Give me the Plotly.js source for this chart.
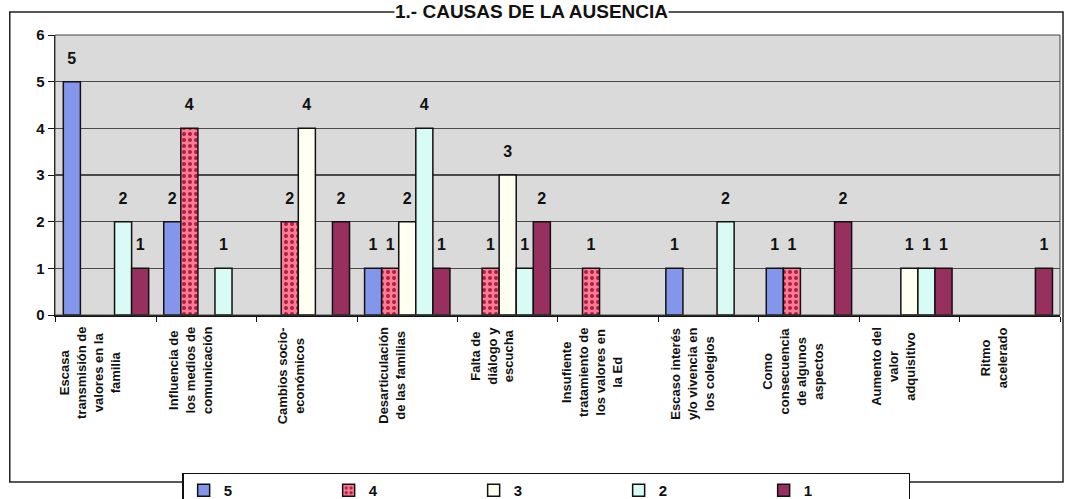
<!DOCTYPE html>
<html>
<head>
<meta charset="utf-8">
<script src="https://cdn.plot.ly/plotly-3.0.1.min.js"></script>
<style>html,body{margin:0;padding:0;background:#fff;}#chart{width:1068px;height:499px;}</style>
</head>
<body>
<div id="chart"></div>
<script>
const categories = [
  "Escasa<br>transmisión de<br>valores en la<br>familia",
  "Influencia de<br>los medios de<br>comunicación",
  "Cambios socio-<br>económicos",
  "Desarticulación<br>de las familias",
  "Falta de<br>diálogo y<br>escucha",
  "Insufiente<br>tratamiento de<br>los valores en<br>la Ed",
  "Escaso interés<br>y/o vivencia en<br>los colegios",
  "Como<br>consecuencia<br>de algunos<br>aspectos",
  "Aumento del<br>valor<br>adquisitivo",
  "Ritmo<br>acelerado"
];
const seriesNames = ["5", "4", "3", "2", "1"];
const s5 = [5, 2, null, 1, null, null, 1, 1, null, null];
const s4 = [null, 4, 2, 1, 1, 1, null, 1, null, null];
const s3 = [null, null, 4, 2, 3, null, null, null, 1, null];
const s2 = [2, 1, null, 4, 1, null, 2, null, 1, null];
const s1 = [1, null, 2, 1, 2, null, null, 2, 1, 1];
const yTicks = [0, 1, 2, 3, 4, 5, 6];
const chartTitle = "1.- CAUSAS DE LA AUSENCIA";

const FONT = "Liberation Sans, Arial, sans-serif";
const cats = categories.map((c, i) => "c" + i);

const styles = [
  {color: "#8396ec"},
  {color: "#ff7a95", pattern: {shape: ".", fgcolor: "#a8203f", bgcolor: "#ff7a95", size: 6, solidity: 0.35}},
  {color: "#fffff2"},
  {color: "#d8fbf6"},
  {color: "#98305f"}
];
const data = [s5, s4, s3, s2, s1].map((vals, k) => ({
  type: "bar",
  name: seriesNames[k],
  x: cats,
  y: vals,
  text: vals.map(v => v == null ? "" : "<span style='font-size:16px'>" + v + "</span><br>&nbsp;"),
  textposition: "outside",
  constraintext: "none",
  cliponaxis: false,
  textfont: {family: FONT, size: 10, color: "#111", weight: "bold"},
  marker: Object.assign({line: {color: "#111", width: 1.5}}, styles[k]),
  hoverinfo: "skip"
}));

const annotations = categories.map((c, i) => ({
  x: cats[i], xref: "x", y: 0, yref: "paper",
  yanchor: "top", xanchor: "center",
  xshift: -16, yshift: -10,
  text: "<b>" + c + "</b>", textangle: -90, align: "center",
  showarrow: false,
  font: {family: FONT, size: 13, color: "#111"}
}));
annotations.push({
  xref: "paper", yref: "paper", x: 0.474, y: 1.0, yshift: 35,
  xanchor: "center", yanchor: "top", showarrow: false,
  bgcolor: "#ffffff", borderpad: 0,
  text: "<b>" + chartTitle + "</b>",
  font: {family: FONT, size: 19, color: "#111"}
});

const layout = {
  width: 1068, height: 499,
  margin: {l: 55, r: 8, t: 35, b: 184, autoexpand: false},
  paper_bgcolor: "#ffffff",
  plot_bgcolor: "#dadada",
  showlegend: true,
  barmode: "group",
  bargap: 0.15,
  bargroupgap: 0,
  xaxis: {
    type: "category",
    showticklabels: false,
    tickson: "boundaries",
    ticks: "outside", ticklen: 5, tickcolor: "#111",
    showline: true, linecolor: "#111", linewidth: 1.5,
    showgrid: false, zeroline: false
  },
  yaxis: {
    range: [0, 6],
    tickvals: yTicks,
    ticks: "outside", ticklen: 6, tickcolor: "#111",
    showline: true, linecolor: "#111", linewidth: 1.5,
    showgrid: true, gridcolor: "#4a4a4a", gridwidth: 1.2,
    zeroline: false,
    tickfont: {family: FONT, size: 15, color: "#111", weight: "bold"}
  },
  legend: {
    orientation: "h",
    x: 0.489, xanchor: "center",
    y: -0.564, yanchor: "top",
    bgcolor: "#ffffff", bordercolor: "#111", borderwidth: 1.2,
    entrywidth: 100, traceorder: "normal",
    font: {family: FONT, size: 15, color: "#111", weight: "bold"}
  },
  annotations: annotations,
  shapes: [
    {type: "rect", xref: "paper", yref: "paper", x0: -0.045, x1: 1.003, y0: -0.596, y1: 1.082,
     line: {color: "#222", width: 1.5}, fillcolor: "rgba(0,0,0,0)", layer: "below"},
    {type: "rect", xref: "paper", yref: "paper", x0: 0, x1: 1, y0: 0, y1: 1,
     line: {color: "#444", width: 1}, fillcolor: "rgba(0,0,0,0)", layer: "above"}
  ]
};

Plotly.newPlot("chart", data, layout, {displayModeBar: false, staticPlot: true});
</script>
</body>
</html>
